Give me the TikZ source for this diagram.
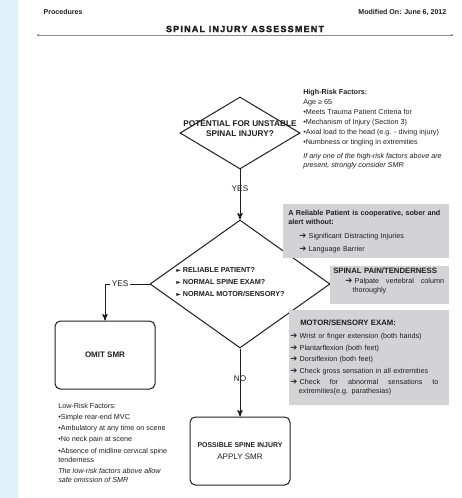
\documentclass[tikz,border=0pt]{standalone}
\usepackage{fontspec}
\setmainfont{Liberation Sans}
\newfontfamily\arrowfont{DejaVu Sans}
\newfontfamily\titlefont[LetterSpace=14,FakeBold=2.5]{Liberation Sans}
\usetikzlibrary{arrows,shapes.geometric,positioning}

\definecolor{sidebar}{HTML}{E1F1FA}
\definecolor{notegray}{HTML}{D3D3D5}
\definecolor{ink}{HTML}{1E1E1E}

\newcommand{\pointer}{{\arrowfont\bfseries\fontsize{6.3}{6.3}\selectfont ➔}\ }
\newcommand{\tri}{{\arrowfont\fontsize{4.5}{4.5}\selectfont ►}\ }
\newcommand{\spread}[2]{\makebox[#1][s]{\spaceskip=0.3em plus 1fil\relax #2}}

\begin{document}
\begin{tikzpicture}[x=0.75pt,y=-0.75pt,>=stealth',node distance=1cm,font=\fontsize{5.4}{6.8}\selectfont,text=ink]

	\tikzstyle{query}   = [diamond, draw=ink, line width=0.75pt, inner sep=0pt]
	\tikzstyle{outcome} = [rectangle, rounded corners=4pt, draw=ink, line width=0.75pt, minimum width=75pt, minimum height=51pt, align=center]
	\tikzstyle{note}    = [rectangle, fill=notegray, anchor=north west, align=left]
	\tikzstyle{aside}   = [anchor=north west, inner sep=0pt, align=left]
	\tikzstyle{flow}    = [->, draw=ink, line width=0.75pt]
	\tikzstyle{answer}  = [font=\fontsize{6.2}{7}\selectfont]

	\useasboundingbox (0,0) rectangle (461,498);
	\fill [sidebar] (0,0) rectangle (18,498);

	\node [anchor=west, font=\fontsize{5.3}{6}\selectfont\bfseries] (section) at (39,12) {Procedures};
	\node [anchor=east, font=\fontsize{5.3}{6}\selectfont\bfseries] (stamp) at (451,12) {Modified On: June 6, 2012};
	\node [font=\titlefont\bfseries\fontsize{6.7}{7}\selectfont] (title) at (245,29) {SPINAL INJURY ASSESSMENT};
	\coordinate (rule west) at (38,35);
	\coordinate (rule east) at (452,35);
	\draw [black!45, line width=0.5pt] (rule west) -- (rule east);
	\fill [black!70] (rule west) circle (0.6pt) (rule east) circle (0.6pt);

	\node [query, minimum width=90pt, minimum height=54pt,
		label={[font=\fontsize{6.2}{7.5}\selectfont\bfseries, align=center, yshift=3pt]center:POTENTIAL FOR UNSTABLE\\SPINAL INJURY?}] (unstable) at (240,133) {};

	\node [query, minimum width=135pt, minimum height=96pt] (checks) [below=37.5pt of unstable] {};
	\node [anchor=west, inner sep=0pt, align=left, font=\fontsize{5.4}{6.8}\selectfont\bfseries] (checklist) at (176,282)
		{\tri RELIABLE PATIENT?\\[2.2pt] \tri NORMAL SPINE EXAM?\\[2.2pt] \tri NORMAL MOTOR/SENSORY?};

	\node [outcome, font=\fontsize{6}{7}\selectfont\bfseries] (omit) at (105,355) {OMIT SMR};
	\node [outcome] (apply) [below=51pt of checks]
		{{\bfseries\fontsize{5.2}{6}\selectfont POSSIBLE SPINE INJURY}\\[2pt]{\fontsize{6}{7}\selectfont APPLY SMR}};

	\draw [flow] (unstable.south) -- (checks.north) node [answer, pos=0.38] {YES};
	\draw [flow] (checks.west) -| (omit.north) node [answer, pos=0.33, fill=white, inner sep=1.5pt] {YES};
	\draw [flow] (checks.south) -- (apply.north) node [answer, pos=0.45] {NO};

	\node [aside] (highrisk) at (303,89.5) {{\bfseries High-Risk Factors:}\\[0.7pt]
		Age ≥ 65\\[0.7pt]
		•Meets Trauma Patient Criteria for\\[0.7pt]
		•Mechanism of Injury (Section 3)\\[0.7pt]
		•Axial load to the head (e.g. - diving injury)\\[0.7pt]
		•Numbness or tingling in extremities\\[3pt]
		{\itshape If any one of the high-risk factors above are}\\
		{\itshape present, strongly consider SMR}};

	\node [note, minimum width=124.5pt, minimum height=40.5pt, text width=117pt, inner xsep=3.75pt] (reliable) at (283,204)
		{{\bfseries A Reliable Patient is cooperative, sober and\\alert without:}\\[3.7pt]
		\hspace*{8.25pt}\pointer Significant Distracting Injuries\\[3pt]
		\hspace*{8.25pt}\pointer Language Barrier};

	\node [note, minimum width=89.25pt, text width=84.75pt, inner xsep=2.25pt, inner ysep=1.5pt] (tender) at (330,266)
		{{\bfseries\fontsize{5.8}{6.8}\selectfont SPINAL PAIN/TENDERNESS}\\[0.7pt]
		\hspace*{9pt}\pointer\spread{67pt}{Palpate vertebral column}\\
		\hspace*{14.5pt}thoroughly\rule[-7pt]{0pt}{1pt}};

	\node [note, minimum width=120pt, minimum height=71.25pt, text width=118.5pt, inner xsep=0.75pt] (motor) at (289,310)
		{\hspace*{7.5pt}{\bfseries\fontsize{5.8}{6.8}\selectfont MOTOR/SENSORY EXAM:}\\[3pt]
		\pointer Wrist or finger extension (both hands)\\[1.8pt]
		\pointer Plantarflexion (both feet)\\[1.8pt]
		\pointer Dorsiflexion (both feet)\\[1.8pt]
		\pointer Check gross sensation in all extremities\\[1.8pt]
		\pointer\spread{104pt}{Check for abnormal sensations to}\\
		\hspace*{6.5pt}extremities(e.g. parathesias)};

	\node [aside] (lowrisk) at (58,403.3) {Low-Risk Factors:\\[1.5pt]
		•Simple rear-end MVC\\[1.5pt]
		•Ambulatory at any time on scene\\[1.5pt]
		•No neck pain at scene\\[1.5pt]
		•Absence of midline cervical spine\\
		tenderness\\[1.5pt]
		{\itshape The low-risk factors above allow}\\
		{\itshape safe omission of SMR}};
\end{tikzpicture}
\end{document}
